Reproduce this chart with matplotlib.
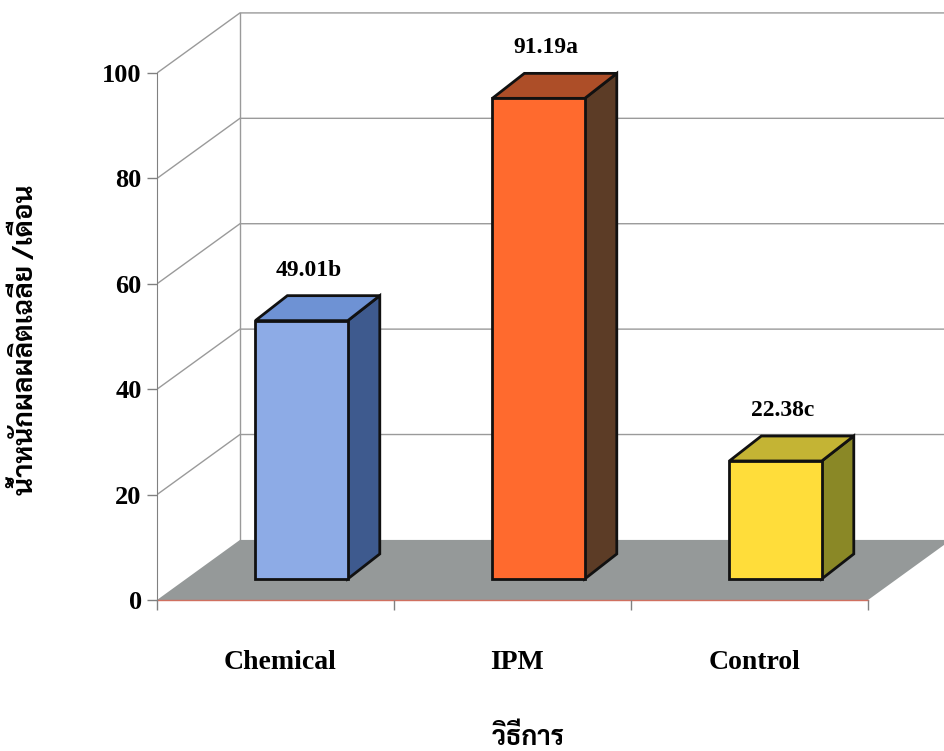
import numpy as np
import matplotlib
matplotlib.use('Agg')
import matplotlib.pyplot as plt
from matplotlib.patches import Polygon

# data
categories = ['Chemical', 'IPM', 'Control']
values = [49.01, 91.19, 22.38]
value_labels = ['49.01b', '91.19a', '22.38c']
front_colors = ['#8dabe6', '#ff6a2e', '#ffdd3a']
side_colors = ['#3e5a8e', '#5c3c26', '#8a8826']
top_colors = ['#6e92d4', '#ad4e28', '#c4b434']
y_ticks = [0, 20, 40, 60, 80, 100]
y_label = 'น้ำหนักผลผลิตเฉลี่ย /เดือน'
x_label = 'วิธีการ'

serif = 'Liberation Serif'
thai = ['Sarabun', 'Noto Sans Thai', 'Athiti', 'DejaVu Sans']

# oblique "3d" look: wall depth and bar depth in data units
DX, DY = 0.35, 11.4
BAR_W = 0.39
BAR_DX, BAR_DY = 0.135, 4.74
FRONT_DX, FRONT_DY = 0.11, 4.0

fig = plt.figure(figsize=(9.45, 7.51), dpi=100)
ax = fig.add_axes([157 / 945, 151 / 751, 788 / 945, 600 / 751])
ax.set_xlim(0, 788 / 237)
ax.set_ylim(0, 600 / 5.27)
ax.patch.set_visible(False)

n = len(categories)
grid_c = '#9a9a9a'

# floor
ax.add_patch(Polygon([(0, 0), (n, 0), (n + DX, DY), (DX, DY)],
                     closed=True, facecolor='#959999', edgecolor='none', zorder=1))
ax.plot([0, n], [0, 0], color='#d07060', lw=1, zorder=1.5, clip_on=False)

# walls and gridlines
top = y_ticks[-1]
ax.plot([DX, DX], [DY, top + DY], color=grid_c, lw=1, zorder=0.5)
for v in y_ticks[1:]:
    ax.plot([0, DX, n + DX + 1], [v, v + DY, v + DY], color=grid_c, lw=1, zorder=0.5)

# bars: front face via ax.bar, side and top faces as polygons
xs = np.arange(n) + 0.5 + FRONT_DX
ax.bar(xs, values, width=BAR_W, bottom=FRONT_DY, color=front_colors,
       edgecolor='#111111', linewidth=2, zorder=3)
for i, v in enumerate(values):
    xl = xs[i] - BAR_W / 2
    xr = xs[i] + BAR_W / 2
    b = FRONT_DY
    side = [(xr, b), (xr + BAR_DX, b + BAR_DY), (xr + BAR_DX, b + BAR_DY + v), (xr, b + v)]
    topf = [(xl, b + v), (xl + BAR_DX, b + v + BAR_DY), (xr + BAR_DX, b + v + BAR_DY), (xr, b + v)]
    ax.add_patch(Polygon(side, closed=True, facecolor=side_colors[i],
                         edgecolor='#111111', lw=2, zorder=2.9))
    ax.add_patch(Polygon(topf, closed=True, facecolor=top_colors[i],
                         edgecolor='#111111', lw=2, zorder=2.9))
    ax.text(xs[i] + 0.03, b + v + 9.6, value_labels[i], ha='center', va='center',
            fontsize=17, fontweight='bold', family=serif)

# axes
for s in ['top', 'right']:
    ax.spines[s].set_visible(False)
ax.spines['left'].set_bounds(0, top)
ax.spines['left'].set_color('#808080')
ax.spines['bottom'].set_visible(False)

ax.set_yticks(y_ticks)
ax.set_yticklabels([str(t) for t in y_ticks], fontsize=19, fontweight='bold', family=serif)
ax.tick_params(axis='y', length=7, width=1, color='#808080', pad=4)

ax.set_xticks(np.arange(n + 1), minor=True)
ax.tick_params(axis='x', which='minor', length=7, width=1, color='#808080')
ax.set_xticks(np.arange(n) + 0.52)
ax.set_xticklabels(categories, fontsize=20, fontweight='bold', family=serif)
ax.tick_params(axis='x', which='major', length=0, pad=36)

fig.text(25 / 945, 1 - 340 / 751, y_label, rotation=90, ha='center', va='center',
         fontsize=20, fontweight='bold', family=thai)
fig.text(528 / 945, 1 - 738 / 751, x_label, ha='center', va='center',
         fontsize=19, fontweight='bold', family=thai)

fig.savefig('out.png', dpi=100)
